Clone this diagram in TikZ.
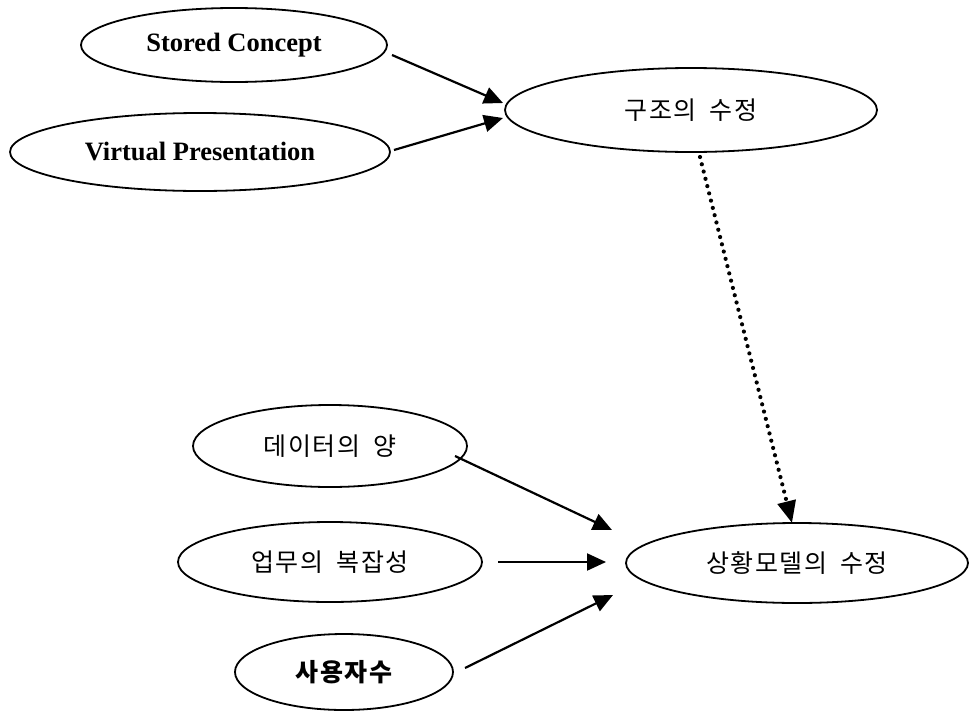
\documentclass[tikz,border=0pt]{standalone}
\usepackage{fontspec}
\setmainfont{Liberation Serif}
\newfontfamily\kr[LetterSpace=6]{Noto Sans CJK KR}
\usetikzlibrary{shapes.geometric,arrows.meta}
\begin{document}
\begin{tikzpicture}[x=1pt,y=-1pt,
  oval/.style={draw,line width=1.8pt,ellipse,inner sep=0pt},
  en/.style={font=\fontsize{26.5}{30}\selectfont\bfseries},
  ko/.style={font=\kr\fontsize{25}{28}\selectfont},
  arr/.style={line width=2.2pt,-{Triangle[length=19pt,width=17pt]}},
  dotarr/.style={line width=4.2pt,line cap=round,dash pattern=on 0pt off 7.5pt,-{Triangle[length=22pt,width=18pt]}}]
\useasboundingbox[fill=white] (0,0) rectangle (969,715);

\node[oval,en,minimum width=306pt,minimum height=74pt] (sc) at (234,45) {Stored Concept};
\node[oval,en,minimum width=380pt,minimum height=78pt] (vp) at (200,152) {Virtual Presentation};
\node[oval,ko,minimum width=372pt,minimum height=84pt] (gj) at (691,110) {구조의\hspace{6pt} 수정};
\node[oval,ko,minimum width=274pt,minimum height=82pt] (dy) at (330,446) {데이터의\hspace{6pt} 양};
\node[oval,ko,minimum width=304pt,minimum height=80pt] (ub) at (330,562) {업무의\hspace{6pt} 복잡성};
\node[oval,ko,font=\kr\fontsize{25}{28}\selectfont\bfseries,minimum width=218pt,minimum height=76pt] (sy) at (344,672) {사용자수};
\node[oval,ko,minimum width=342pt,minimum height=80pt] (sh) at (797,563) {상황모델의\hspace{6pt} 수정};

\coordinate (scA) at (392,55);
\coordinate (gjA) at (503,103);
\coordinate (vpA) at (394,150);
\coordinate (gjB) at (503,118);
\coordinate (gjC) at (700,157);
\coordinate (shA) at (792,523);
\coordinate (dyA) at (455,456);
\coordinate (shB) at (612,530);
\coordinate (ubA) at (498,562);
\coordinate (shC) at (606,562);
\coordinate (syA) at (465,668);
\coordinate (shD) at (613,595);

\draw[arr] (scA) -- (gjA);
\draw[arr] (vpA) -- (gjB);
\draw[dotarr] (gjC) -- (shA);
\draw[arr] (dyA) -- (shB);
\draw[arr] (ubA) -- (shC);
\draw[arr] (syA) -- (shD);
\end{tikzpicture}
\end{document}
